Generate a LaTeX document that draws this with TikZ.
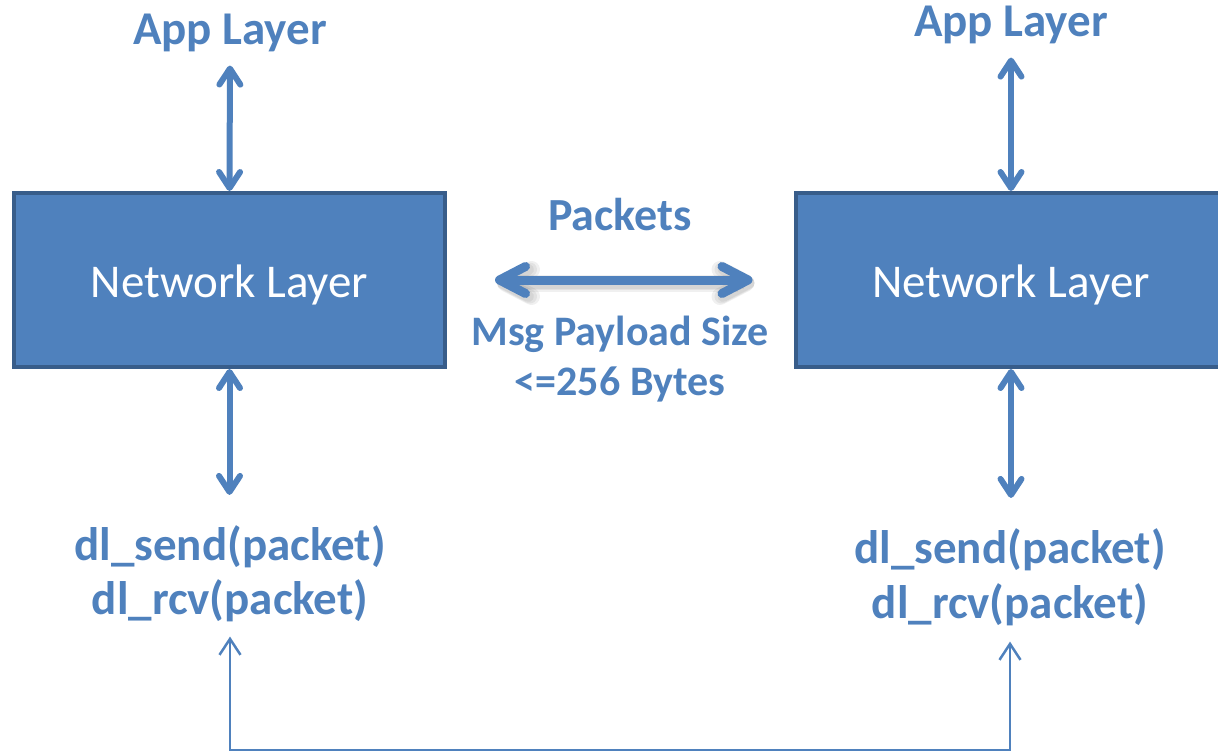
\documentclass[tikz,border=0pt]{standalone}
\usepackage{fontspec}
\setmainfont{Carlito}
\usetikzlibrary{arrows.meta}
\definecolor{layerblue}{HTML}{4F81BD}
\definecolor{layeredge}{HTML}{385D8A}
\tikzset{
  vtip/.tip={Straight Barb[round,line width=6pt,length=16pt,width=21pt]},
  htip/.tip={Straight Barb[round,line width=9pt,length=26pt,width=27pt]},
  ltip/.tip={Straight Barb[line width=2.5pt,length=16pt,width=21pt]},
  layerbox/.style={draw=layeredge, fill=layerblue, line width=4pt,
    minimum width=431pt, minimum height=174pt, inner sep=0pt,
    text=white, font=\fontsize{47}{56}\selectfont,
    text height=40pt, text depth=6pt},
  bigtext/.style={text=layerblue, font=\bfseries\fontsize{47}{56}\selectfont,
    inner sep=0pt, anchor=base},
  midtext/.style={text=layerblue, font=\bfseries\fontsize{42}{50}\selectfont,
    inner sep=0pt, anchor=base},
  varrow/.style={draw=layerblue, line width=6pt, {vtip}-{vtip}},
  harrow/.style={draw=layerblue, line width=9pt, {htip}-{htip}},
  hshadow/.style={draw=black, line width=#1, opacity=0.06,
    {Straight Barb[round,line width=#1,length=26pt,width=27pt]}-{Straight Barb[round,line width=#1,length=26pt,width=27pt]}},
  link/.style={draw=layerblue, line width=2.5pt, {ltip}-{ltip}},
}
\begin{document}
\begin{tikzpicture}[x=1pt,y=-1pt]
\useasboundingbox (0,0) rectangle (1218,752);
\begin{scope}
\clip (0,0) rectangle (1218,752);

% the two network layer boxes
\node[layerbox] (lnet) at (229.5,280) {Network Layer};
\node[layerbox] (rnet) at (1011,280) {Network Layer};

% labels above and below each box
\node[bigtext] (lapp) at (230,45) {App Layer};
\node[bigtext] (rapp) at (1011,37) {App Layer};
\node[bigtext] (lsend) at (230,560) {dl\_send(packet)};
\node[bigtext] (lrcv) at (230,614) {dl\_rcv(packet)};
\node[bigtext] (rsend) at (1010,563) {dl\_send(packet)};
\node[bigtext] (rrcv) at (1010,618) {dl\_rcv(packet)};

% labels around the packet exchange
\node[bigtext, font=\bfseries\fontsize{46}{54}\selectfont] (pk) at (620,230) {Packets};
\node[midtext] (msg) at (620,345) {Msg Payload Size};
\node[midtext] (sz) at (620,395) {<=256 Bytes};

% vertical links between layers
\draw[varrow, shorten <=13pt] (lapp.south) -- (lnet.north);
\draw[varrow, shorten <=13pt] (rapp.south) -- (rnet.north);
\draw[varrow, shorten >=30pt] (lnet.south) -- (lnet.south |- lsend.north);
\draw[varrow, shorten >=30pt] (rnet.south) -- (rnet.south |- rsend.north);

% packet exchange arrow with a soft shadow
\begin{scope}[transform canvas={shift={(2pt,-3pt)}}]
  \draw[hshadow=17pt, shorten <=48pt, shorten >=41pt] (lnet.east) -- (rnet.west);
  \draw[hshadow=14pt, shorten <=48pt, shorten >=41pt] (lnet.east) -- (rnet.west);
  \draw[hshadow=11pt, shorten <=48pt, shorten >=41pt] (lnet.east) -- (rnet.west);
\end{scope}
\draw[harrow, shorten <=48pt, shorten >=41pt] (lnet.east) -- (rnet.west);

% physical link between the two data link interfaces
\path (0,750) coordinate (floor);
\coordinate (lfoot) at (lrcv.south |- floor);
\coordinate (rfoot) at (rrcv.south |- floor);
\draw[link, shorten <=15pt, shorten >=16pt] (lrcv.south) -- (lfoot) -- (rfoot) -- (rrcv.south);
\end{scope}
\end{tikzpicture}
\end{document}
